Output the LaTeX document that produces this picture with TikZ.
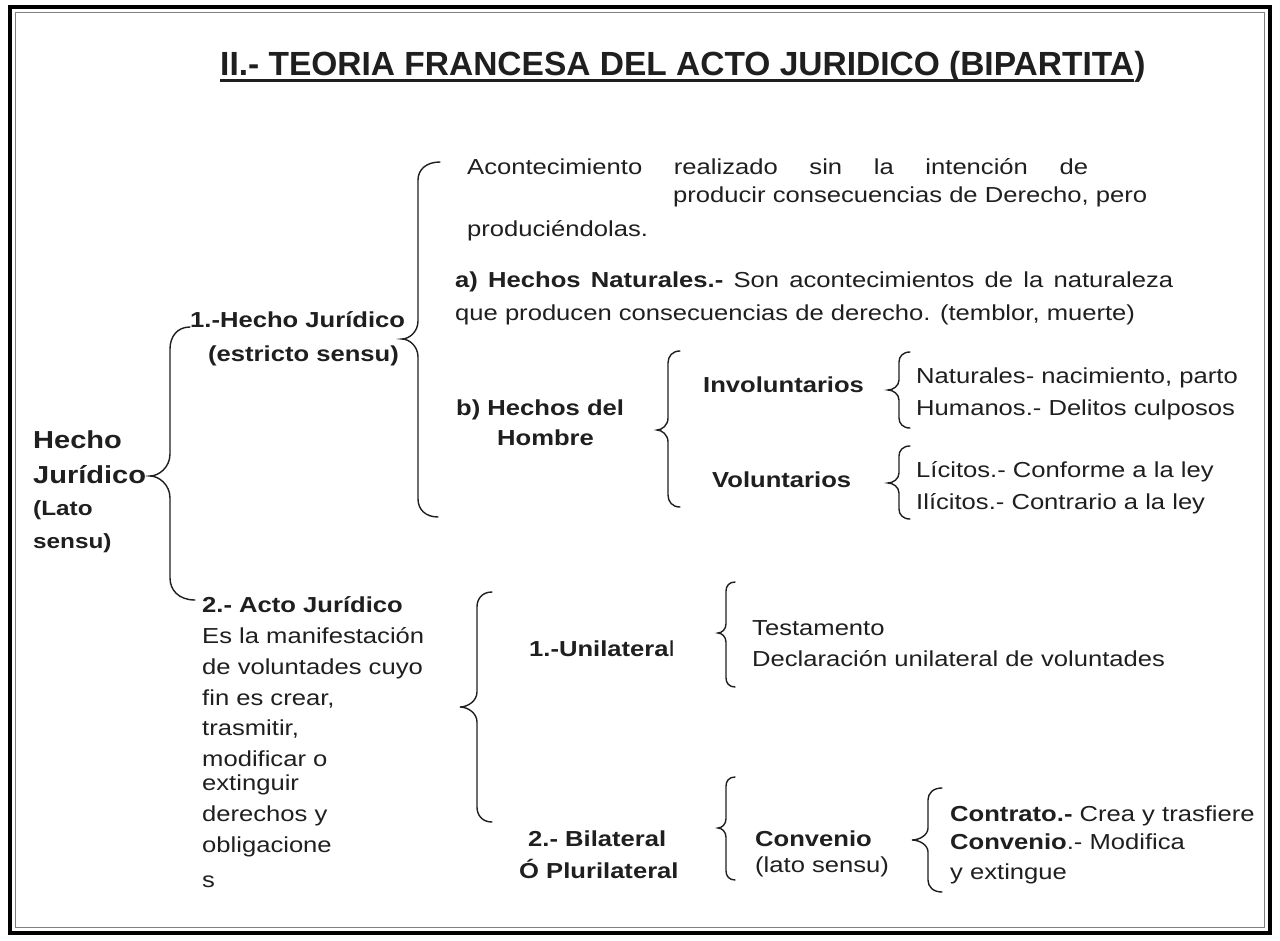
\documentclass[tikz,border=0pt]{standalone}
\usepackage{fontspec}
\setmainfont{Liberation Sans}[FakeStretch=1.18]
\newfontfamily\titlefont{Liberation Sans}
\definecolor{ink}{gray}{0.12}
\newcommand\curlyb[8]{% tx ty vx cx cy bx by r
  \draw[bracestyle] (#1,#2) .. controls ({#3+0.35*(#1-#3)},#2) and (#3,{#2+0.45*#8}) .. (#3,{#2+#8})
    -- (#3,{#5-#8}) .. controls (#3,{#5-0.4*#8}) and ({#4+0.45*(#3-#4)},#5) .. (#4,#5)
    .. controls ({#4+0.45*(#3-#4)},#5) and (#3,{#5+0.4*#8}) .. (#3,{#5+#8})
    -- (#3,{#7-#8}) .. controls (#3,{#7-0.45*#8}) and ({#3+0.35*(#6-#3)},#7) .. (#6,#7);}
\begin{document}
\begin{tikzpicture}[x=1pt,y=-1pt,
  txt/.style={anchor=base west,inner sep=0pt,text=ink,font=\fontsize{21.7}{31}\selectfont},
  txtb/.style={txt,font=\fontsize{21.7}{31}\selectfont\bfseries},
  bigb/.style={txt,font=\fontsize{24.6}{28}\selectfont\bfseries},
  midb/.style={txt,font=\fontsize{20.6}{26}\selectfont\bfseries},
  bracestyle/.style={draw=ink,line width=1.4pt,line cap=round}]
\useasboundingbox (0,0) rectangle (1280,941);
\fill[white] (0,0) rectangle (1280,941);
% frame
\draw[line width=4pt,black] (10,7) rectangle (1270,933);
\draw[line width=1.2pt,gray] (15.5,12.5) rectangle (1264.5,927.5);
% title
\node[anchor=base west,inner sep=0pt,text=ink,font=\titlefont\fontsize{33.5}{38}\selectfont\bfseries] (title) at (220,76) {II.- TEORIA FRANCESA DEL ACTO JURIDICO (BIPARTITA};
\node[anchor=base west,inner sep=0pt,text=ink,font=\titlefont\fontsize{33.5}{38}\selectfont\bfseries] (titlep) at (title.base east) {)};
\draw[ink,line width=2.4pt] ([yshift=-4.5pt]title.base west) -- ([yshift=-4.5pt]title.base east);
% left root
\node[bigb] (h1) at (33,448) {Hecho};
\node[bigb] (h2) at (33,483) {Jurídico};
\node[midb] (h3) at (33,515) {(Lato};
\node[midb] (h4) at (33,548) {sensu)};
% 1. Hecho juridico
\node[txtb] (hj1) at (190,328) {1.-Hecho Jurídico};
\node[txtb] (hj2) at (208,362) {(estricto sensu)};
\node[txt] (a1) at (467,175) {\makebox[621pt][s]{Acontecimiento realizado sin la intención de}};
\node[txt] (a2) at (673,203) {producir consecuencias de Derecho, pero};
\node[txt] (a3) at (467,237) {produciéndolas.};
\node[txt] (n1) at (455,288) {\makebox[718pt][s]{\textbf{a) Hechos Naturales.-} Son acontecimientos de la naturaleza}};
\node[txt] (n2) at (455,320) {que producen consecuencias de derecho. (temblor, muerte)};
\node[txtb] (bh1) at (456,415) {b) Hechos del};
\node[txtb] (bh2) at (497,445) {Hombre};
\node[txtb] (inv) at (703,392) {Involuntarios};
\node[txtb] (vol) at (712,487) {Voluntarios};
\node[txt] (nat) at (916,384) {Naturales- nacimiento, parto};
\node[txt] (hum) at (916,415) {Humanos.- Delitos culposos};
\node[txt] (lic) at (916,477) {Lícitos.- Conforme a la ley};
\node[txt] (ilic) at (916,509) {Ilícitos.- Contrario a la ley};
% 2. Acto juridico
\node[txtb] (aj) at (202,612) {2.- Acto Jurídico};
\node[txt] (d1) at (202,643) {Es la manifestación};
\node[txt] (d2) at (202,674) {de voluntades cuyo};
\node[txt] (d3) at (202,705) {fin es crear,};
\node[txt] (d4) at (202,735) {trasmitir,};
\node[txt] (d5) at (202,766) {modificar o};
\node[txt] (d6) at (202,790) {extinguir};
\node[txt] (d7) at (202,821) {derechos y};
\node[txt] (d8) at (202,852) {obligacione};
\node[txt] (d9) at (202,887) {s};
\node[txt] (uni) at (529,656) {\textbf{1.-Unilatera}l};
\node[txt] (tes) at (752,635) {Testamento};
\node[txt] (dec) at (752,666) {Declaración unilateral de voluntades};
\node[txtb] (bil1) at (528,846) {2.- Bilateral};
\node[txtb] (bil2) at (519,878) {Ó Plurilateral};
\node[txtb] (conv) at (755,846) {Convenio};
\node[txt] (lato) at (755,872) {(lato sensu)};
\node[txt] (c1) at (950,821) {\textbf{Contrato.-} Crea y trasfiere};
\node[txt] (c2) at (950,849) {\textbf{Convenio}.- Modifica};
\node[txt] (c3) at (950,879) {y extingue};
% braces
\curlyb{190}{327}{170}{150}{476}{195}{600}{22}
\curlyb{440}{162}{418}{402}{339}{438}{517}{18}
\curlyb{680}{351}{668}{657}{430}{680}{507}{12}
\curlyb{910}{352}{899}{888}{390}{910}{428}{10}
\curlyb{910}{446}{899}{888}{483}{910}{519}{10}
\curlyb{492}{592}{477}{460}{707}{492}{822}{15}
\curlyb{735}{582}{726}{718}{633}{735}{687}{9}
\curlyb{735}{777}{726}{718}{828}{735}{880}{9}
\curlyb{942}{788}{928}{912}{840}{942}{892}{12}
\end{tikzpicture}
\end{document}
